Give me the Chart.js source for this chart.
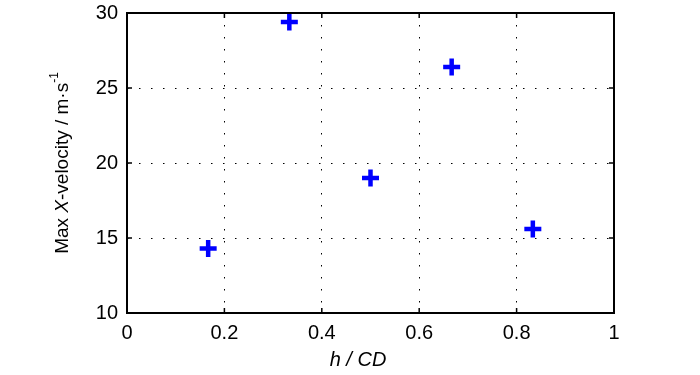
<!DOCTYPE html>
<html>
<head>
<meta charset="utf-8">
<script src="https://cdn.jsdelivr.net/npm/chart.js@4.4.0/dist/chart.umd.min.js"></script>
<style>
  html, body { margin: 0; padding: 0; background: #fff; }
  #wrap { width: 700px; height: 375px; }
</style>
</head>
<body>
<div id="wrap"><canvas id="velChart" width="700" height="375"></canvas></div>
<script>
// h / CD positions and max X-velocity (m/s)
var hOverCD = [1 / 6, 1 / 3, 1 / 2, 2 / 3, 5 / 6];
var maxXVel = [14.3, 29.4, 19.0, 26.4, 15.6];

var xTicks = [0, 0.2, 0.4, 0.6, 0.8, 1];
var xTickLabels = ['0', '0.2', '0.4', '0.6', '0.8', '1'];
var yTicks = [10, 15, 20, 25, 30];
var yTickLabels = ['10', '15', '20', '25', '30'];

var fontName = '"Liberation Sans Narrow", "Liberation Sans", Arial, sans-serif';
var fontSize = 20;
var yTitleSize = 19;

var points = [];
for (var i = 0; i < hOverCD.length; i++) {
    points.push({ x: hOverCD[i], y: maxXVel[i] });
}

// box round the plot with inward ticks, plus the axis titles
var boxPlugin = {
    id: 'matlabBox',
    afterDraw: function(chart) {
        var ctx = chart.ctx;
        var a = chart.chartArea;
        var xs = chart.scales.x, ys = chart.scales.y;
        var tickLen = 5;

        ctx.save();
        ctx.strokeStyle = '#000';
        ctx.lineWidth = 2;
        ctx.strokeRect(a.left, a.top, a.right - a.left, a.bottom - a.top);

        ctx.beginPath();
        xTicks.forEach(function(v) {
            var px = xs.getPixelForValue(v);
            ctx.moveTo(px, a.bottom); ctx.lineTo(px, a.bottom - tickLen);
            ctx.moveTo(px, a.top); ctx.lineTo(px, a.top + tickLen);
        });
        yTicks.forEach(function(v) {
            var py = ys.getPixelForValue(v);
            ctx.moveTo(a.left, py); ctx.lineTo(a.left + tickLen, py);
            ctx.moveTo(a.right, py); ctx.lineTo(a.right - tickLen, py);
        });
        ctx.lineWidth = 1.5;
        ctx.stroke();

        ctx.fillStyle = '#000';
        ctx.textBaseline = 'middle';

        // x title, all italic
        ctx.font = 'italic ' + fontSize + 'px ' + fontName;
        ctx.textAlign = 'center';
        ctx.fillText('h / CD', 358, 360);

        // y title, rotated, with italic X and superscript -1
        var parts = [
            { t: 'Max ', f: yTitleSize + 'px ' + fontName, dy: 0 },
            { t: 'X', f: 'italic ' + yTitleSize + 'px ' + fontName, dy: 0 },
            { t: '-velocity / m\u00b7s', f: yTitleSize + 'px ' + fontName, dy: 0 },
            { t: '-1', f: '12px ' + fontName, dy: -8 }
        ];
        var total = 0;
        parts.forEach(function(p) {
            ctx.font = p.f;
            p.w = ctx.measureText(p.t).width;
            total += p.w;
        });
        ctx.translate(63, (a.top + a.bottom) / 2);
        ctx.rotate(-Math.PI / 2);
        ctx.textAlign = 'left';
        var cx = -total / 2;
        parts.forEach(function(p) {
            ctx.font = p.f;
            ctx.fillText(p.t, cx, p.dy);
            cx += p.w;
        });
        ctx.restore();
    }
};

new Chart(document.getElementById('velChart'), {
    type: 'scatter',
    data: {
        datasets: [{
            data: points,
            pointStyle: 'cross',
            pointRadius: 8.5,
            pointHoverRadius: 8.5,
            pointBorderWidth: 4.5,
            pointHoverBorderWidth: 4.5,
            borderColor: '#0000ff',
            backgroundColor: '#0000ff'
        }]
    },
    plugins: [boxPlugin],
    options: {
        responsive: false,
        animation: false,
        events: [],
        layout: { padding: { top: 12, right: 86, left: 0, bottom: 0 } },
        plugins: {
            legend: { display: false },
            tooltip: { enabled: false }
        },
        scales: {
            x: {
                type: 'linear',
                min: 0,
                max: 1,
                afterBuildTicks: function(scale) {
                    scale.ticks = xTicks.map(function(v) { return { value: v }; });
                },
                afterFit: function(scale) {
                    scale.height = 62;
                    scale.paddingLeft = 0;
                    scale.paddingRight = 0;
                },
                grid: { color: '#000', lineWidth: 1, drawTicks: false },
                border: { display: false, dash: [1.5, 10.5] },
                ticks: {
                    color: '#000',
                    padding: 8,
                    maxRotation: 0,
                    font: { family: fontName, size: fontSize },
                    callback: function(v, idx) { return xTickLabels[idx]; }
                }
            },
            y: {
                type: 'linear',
                min: 10,
                max: 30,
                afterBuildTicks: function(scale) {
                    scale.ticks = yTicks.map(function(v) { return { value: v }; });
                },
                afterFit: function(scale) {
                    scale.width = 127;
                    scale.paddingTop = 0;
                    scale.paddingBottom = 0;
                },
                grid: { color: '#000', lineWidth: 1, drawTicks: false },
                border: { display: false, dash: [1.5, 10.5] },
                ticks: {
                    color: '#000',
                    padding: 9,
                    font: { family: fontName, size: fontSize },
                    callback: function(v, idx) { return yTickLabels[idx]; }
                }
            }
        }
    }
});
</script>
</body>
</html>
